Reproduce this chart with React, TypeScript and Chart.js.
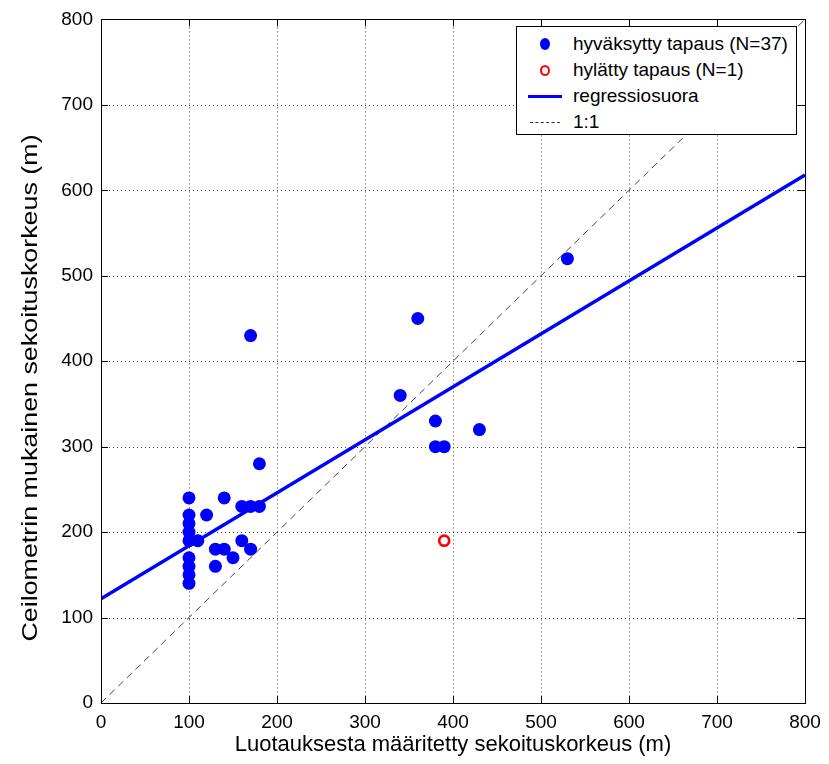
import React, { useEffect, useRef } from "react";
import { Chart, registerables } from "chart.js";

Chart.register(...registerables);

const acceptedX = [100, 100, 100, 100, 100, 100, 100, 100, 100, 110, 120, 140, 130, 140, 130, 150, 160, 170, 160, 170, 180, 180, 170, 360, 340, 380, 380, 390, 430, 530];
const acceptedY = [240, 220, 210, 200, 190, 170, 160, 150, 140, 190, 220, 240, 180, 180, 160, 170, 190, 180, 230, 230, 230, 280, 430, 450, 360, 330, 300, 300, 320, 520];
const rejectedX = [390];
const rejectedY = [190];
const regressionX = [0, 800];
const regressionY = [122, 618];
const identityX = [0, 800];
const identityY = [0, 800];
const tickValues = [0, 100, 200, 300, 400, 500, 600, 700, 800];

const xTitle = "Luotauksesta määritetty sekoituskorkeus (m)";
const yTitle = "Ceilometrin mukainen sekoituskorkeus (m)";

const legendItems = [
  { label: "hyväksytty tapaus (N=37)", kind: "dot" },
  { label: "hylätty tapaus (N=1)", kind: "ring" },
  { label: "regressiosuora", kind: "line" },
  { label: "1:1", kind: "dash" },
];

const FONT = "'Liberation Sans', Arial, sans-serif";

const frame = {
  id: "frame",
  beforeDatasetsDraw(chart: any) {
    const { ctx, chartArea: a, scales } = chart;
    const xs = scales.x, ys = scales.y;
    ctx.save();
    ctx.strokeStyle = "#444";
    ctx.lineWidth = 1;
    ctx.setLineDash([1, 3]);
    tickValues.slice(1, -1).forEach((v) => {
      const px = Math.round(xs.getPixelForValue(v)) + 0.5;
      ctx.beginPath(); ctx.moveTo(px, a.top); ctx.lineTo(px, a.bottom); ctx.stroke();
      const py = Math.round(ys.getPixelForValue(v)) + 0.5;
      ctx.beginPath(); ctx.moveTo(a.left, py); ctx.lineTo(a.right, py); ctx.stroke();
    });
    ctx.restore();
  },
  afterDatasetsDraw(chart: any) {
    const { ctx, chartArea: a, scales } = chart;
    const xs = scales.x, ys = scales.y;
    ctx.save();
    ctx.strokeStyle = "#000";
    ctx.lineWidth = 1;
    ctx.setLineDash([]);
    ctx.strokeRect(Math.round(a.left) + 0.5, Math.round(a.top) + 0.5, Math.round(a.right - a.left), Math.round(a.bottom - a.top));
    const t = 7;
    tickValues.forEach((v) => {
      const px = Math.round(xs.getPixelForValue(v)) + 0.5;
      ctx.beginPath();
      ctx.moveTo(px, a.bottom); ctx.lineTo(px, a.bottom - t);
      ctx.moveTo(px, a.top); ctx.lineTo(px, a.top + t);
      ctx.stroke();
      const py = Math.round(ys.getPixelForValue(v)) + 0.5;
      ctx.beginPath();
      ctx.moveTo(a.left, py); ctx.lineTo(a.left + t, py);
      ctx.moveTo(a.right, py); ctx.lineTo(a.right - t, py);
      ctx.stroke();
    });
    // y axis title (stretched along its length, as in the reference)
    ctx.translate(31, 388);
    ctx.rotate(-Math.PI / 2);
    ctx.scale(1.22, 1);
    ctx.font = `22px ${FONT}`;
    ctx.fillStyle = "#000";
    ctx.textAlign = "center";
    ctx.textBaseline = "middle";
    ctx.fillText(yTitle, 0, 0);
    ctx.restore();
  },
};

export default function App() {
  const ref = useRef<HTMLCanvasElement>(null);
  useEffect(() => {
    if (!ref.current) return;
    const chart = new Chart(ref.current, {
      type: "scatter",
      data: {
        datasets: [
          {
            label: "1:1",
            type: "line",
            data: identityX.map((x, i) => ({ x, y: identityY[i] })),
            borderColor: "#444",
            borderWidth: 1,
            borderDash: [7, 5],
            pointRadius: 0,
            showLine: true,
            order: 4,
          },
          {
            label: "regressiosuora",
            type: "line",
            data: regressionX.map((x, i) => ({ x, y: regressionY[i] })),
            borderColor: "#0000ff",
            borderWidth: 3.5,
            pointRadius: 0,
            showLine: true,
            order: 3,
          },
          {
            label: "hyväksytty tapaus (N=37)",
            data: acceptedX.map((x, i) => ({ x, y: acceptedY[i] })),
            backgroundColor: "#0000ff",
            borderColor: "#0000ff",
            pointRadius: 6.5,
            borderWidth: 0,
            order: 2,
          },
          {
            label: "hylätty tapaus (N=1)",
            data: rejectedX.map((x, i) => ({ x, y: rejectedY[i] })),
            backgroundColor: "rgba(0,0,0,0)",
            borderColor: "#ff0000",
            pointRadius: 5,
            borderWidth: 2.7,
            order: 1,
          },
        ],
      },
      options: {
        animation: false,
        responsive: false,
        layout: { padding: { top: 14, right: 24, left: 0, bottom: 0 } },
        plugins: { legend: { display: false }, tooltip: { enabled: false } },
        scales: {
          x: {
            type: "linear",
            min: 0,
            max: 800,
            afterFit: (s: any) => { s.height = 61; },
            afterBuildTicks: (s: any) => { s.ticks = tickValues.map((v) => ({ value: v })); },
            grid: { display: false, drawTicks: false },
            border: { display: false },
            ticks: { color: "#000", padding: 8, font: { family: FONT, size: 19 } },
            title: {
              display: true,
              text: xTitle,
              color: "#000",
              font: { family: FONT, size: 22 },
              padding: { top: 0, bottom: 6 },
            },
          },
          y: {
            type: "linear",
            min: 0,
            max: 800,
            afterFit: (s: any) => { s.width = 101; },
            afterBuildTicks: (s: any) => { s.ticks = tickValues.map((v) => ({ value: v })); },
            grid: { display: false, drawTicks: false },
            border: { display: false },
            ticks: { color: "#000", padding: 8, font: { family: FONT, size: 19 } },
            title: { display: false, text: yTitle },
          },
        },
      },
      plugins: [frame],
    } as any);
    return () => chart.destroy();
  }, []);

  const marker = (kind: string) => {
    if (kind === "dot")
      return <span style={{ display: "inline-block", width: 10, height: 12, borderRadius: "50%", background: "#0000ff" }} />;
    if (kind === "ring")
      return <span style={{ display: "inline-block", width: 6, height: 7, borderRadius: "50%", border: "2.5px solid #ff0000" }} />;
    if (kind === "line")
      return <span style={{ display: "inline-block", width: 34, height: 0, borderTop: "3.5px solid #0000ff" }} />;
    return <span style={{ display: "inline-block", width: 30, height: 0, borderTop: "1px dashed #333" }} />;
  };

  return (
    <div style={{ position: "absolute", left: 0, top: 0, width: 829, height: 764, background: "#fff" }}>
      <canvas ref={ref} width={829} height={764} style={{ display: "block" }} />
      <div
        style={{
          position: "absolute",
          left: 516,
          top: 26,
          width: 281,
          height: 109,
          background: "#fff",
          border: "1px solid #000",
          fontFamily: FONT,
          fontSize: 19,
          color: "#000",
          boxSizing: "border-box",
          paddingTop: 4,
        }}
      >
        {legendItems.map((it) => (
          <div key={it.label} style={{ display: "flex", alignItems: "center", height: 26 }}>
            <div style={{ width: 56, display: "flex", justifyContent: "center", alignItems: "center" }}>{marker(it.kind)}</div>
            <span style={{ whiteSpace: "nowrap" }}>{it.label}</span>
          </div>
        ))}
      </div>
    </div>
  );
}
